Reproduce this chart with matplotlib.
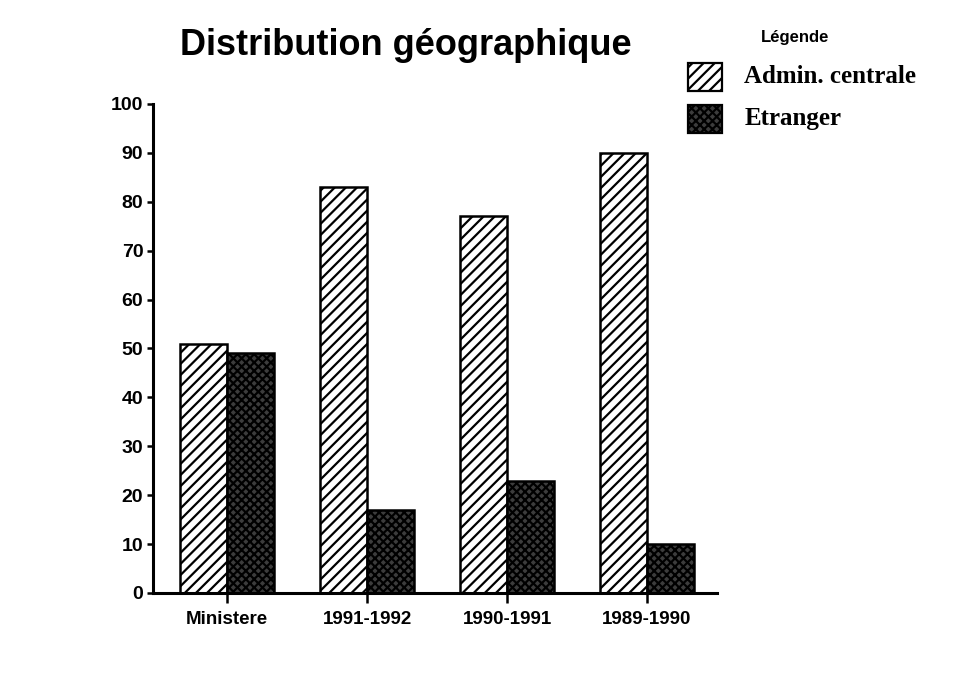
import matplotlib.pyplot as plt
import numpy as np
from matplotlib.patches import Rectangle

# Data
categories = ['Ministere', '1991-1992', '1990-1991', '1989-1990']
admin_centrale = [51, 83, 77, 90]
etranger = [49, 17, 23, 10]
y_ticks = [0, 10, 20, 30, 40, 50, 60, 70, 80, 90, 100]

plt.rcParams['hatch.linewidth'] = 1.6

fig = plt.figure(figsize=(9.63, 6.86), dpi=100)
ax = fig.add_axes([0.1589, 0.1356, 0.5856, 0.7128])

x = np.arange(len(categories))
w = 0.335
ax.bar(x - w / 2, admin_centrale, w, facecolor='white', edgecolor='black',
       hatch='///', linewidth=1.8)
ax.bar(x + w / 2, etranger, w, facecolor='#3c3c3c', edgecolor='black',
       hatch='xxxx', linewidth=1.8)

ax.set_xlim(-0.53, 3.5)
ax.set_ylim(0, 100)
ax.set_xticks(x)
ax.set_xticklabels(categories, fontsize=13.5, fontweight='bold', family='Liberation Sans')
ax.set_yticks(y_ticks)
ax.set_yticklabels([str(t) for t in y_ticks], fontsize=14, fontweight='bold',
                   family='Liberation Sans')
ax.tick_params(axis='x', length=7, width=1.8, pad=6)
ax.tick_params(axis='y', length=4, width=1.8, pad=3)
for s in ['top', 'right']:
    ax.spines[s].set_visible(False)
for s in ['left', 'bottom']:
    ax.spines[s].set_linewidth(2.2)

# Title
fig.text(0.421, 0.933, 'Distribution géographique', fontsize=26, fontweight='bold',
         family='Liberation Sans', ha='center', va='center')

# Legend drawn by hand
fig.text(0.826, 0.945, 'Légende', fontsize=12, fontweight='bold',
         family='Liberation Sans', ha='center', va='center')
legend_items = [('Admin. centrale', 'white', '///'), ('Etranger', '#3c3c3c', 'xxxx')]
for i, (lab, fc, h) in enumerate(legend_items):
    y0 = 0.867 - i * 0.061
    fig.patches.append(Rectangle((0.714, y0), 0.036, 0.041, transform=fig.transFigure,
                                 facecolor=fc, edgecolor='black', hatch=h, linewidth=1.6))
    fig.text(0.773, y0 + 0.021, lab, fontsize=18, fontweight='bold',
             family='Liberation Serif', ha='left', va='center')

fig.savefig('out.png', dpi=100)
